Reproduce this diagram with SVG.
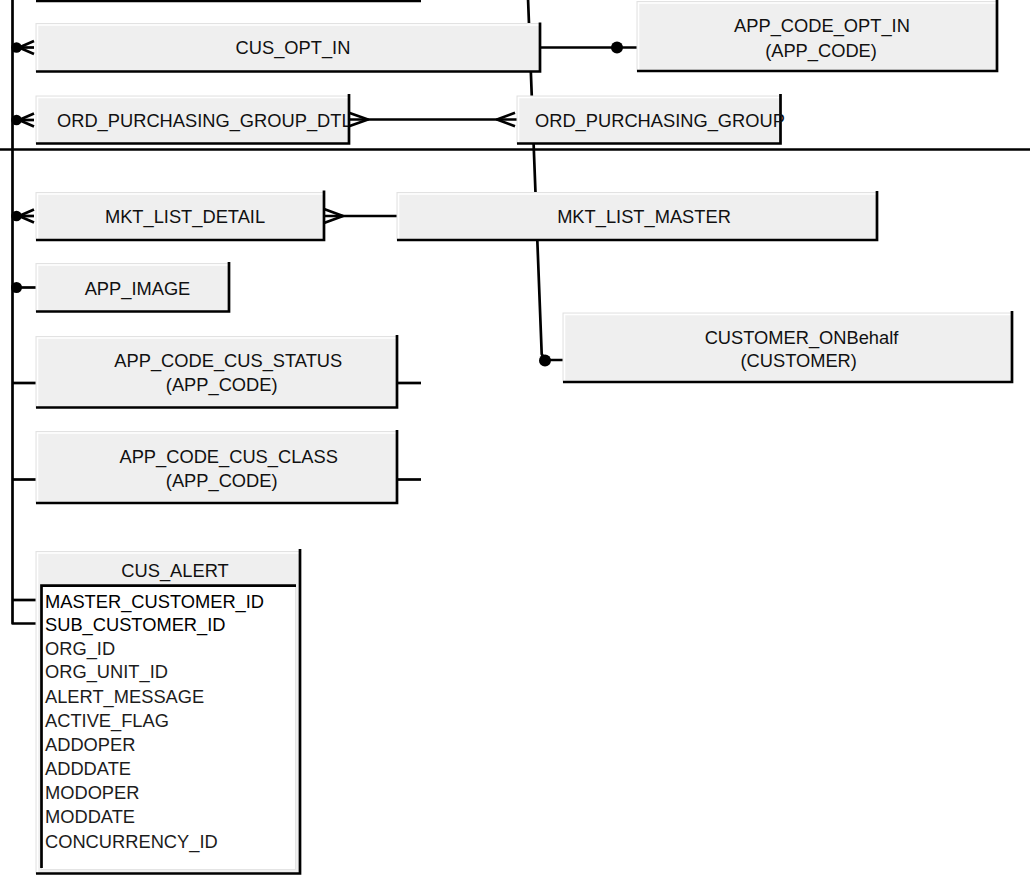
<svg xmlns="http://www.w3.org/2000/svg" width="1030" height="876" viewBox="0 0 1030 876">
<style>
.ln{fill:none;stroke:#000;stroke-width:2.7;stroke-linejoin:round}
.dot{fill:#000}
.bx{fill:#efefef;stroke:#e2e2e2;stroke-width:1}
.hl{fill:none;stroke:#fff;stroke-width:1.5}
.sh{fill:none;stroke:#000;stroke-width:2.7}
.t{font-family:"Liberation Sans",Arial,sans-serif;font-size:18.3px;fill:#111}
.c{text-anchor:middle}
.k{fill:#000}
.f{fill:#1c1c1c}
</style>
<defs>
  <clipPath id="clipDtl"><rect x="36" y="96" width="312" height="48"/></clipPath>
</defs>
<rect width="1030" height="876" fill="#fff"/>
<g id="connectors">
  <line class="ln" x1="36" y1="1" x2="421" y2="1"/>
  <line class="ln" x1="0" y1="149.5" x2="1030" y2="149.5"/>
  <polyline class="ln" points="528,-2 541.7,354 545,360 563,360"/>
  <polyline class="ln" points="12.5,-2 12.5,623.5 36,623.5"/>
  <line class="ln" x1="12.5" y1="600" x2="36" y2="600"/>
  <g id="cf-cus-opt-in">
    <circle class="dot" cx="16.5" cy="47.5" r="5.3"/>
    <polyline class="ln" points="34,41 19,47.5 34,54"/>
    <line class="ln" x1="12.5" y1="47.5" x2="34" y2="47.5"/>
  </g>
  <g id="cf-ord-dtl">
    <circle class="dot" cx="16.5" cy="120" r="5.3"/>
    <polyline class="ln" points="34,113.5 19,120 34,126.5"/>
    <line class="ln" x1="12.5" y1="120" x2="34" y2="120"/>
  </g>
  <g id="cf-mkt-detail">
    <circle class="dot" cx="16.5" cy="216" r="5.3"/>
    <polyline class="ln" points="34,209.5 19,216 34,222.5"/>
    <line class="ln" x1="12.5" y1="216" x2="34" y2="216"/>
  </g>
  <g id="cf-app-image">
    <circle class="dot" cx="16.5" cy="287.5" r="5.5"/>
    <line class="ln" x1="12.5" y1="287.5" x2="36" y2="287.5"/>
  </g>
  <line class="ln" x1="12.5" y1="383" x2="36" y2="383"/>
  <line class="ln" x1="12.5" y1="479.5" x2="36" y2="479.5"/>
  <line class="ln" x1="396" y1="383" x2="421" y2="383"/>
  <line class="ln" x1="396" y1="479.5" x2="421" y2="479.5"/>
  <line class="ln" x1="540" y1="47.5" x2="637" y2="47.5"/>
  <circle class="dot" cx="617" cy="47.5" r="6"/>
  <line class="ln" x1="349" y1="119.5" x2="517" y2="119.5"/>
  <polyline class="ln" points="349,112.8 368,119.5 349,126.2"/>
  <polyline class="ln" points="515,112.8 497,119.5 515,126.2"/>
  <line class="ln" x1="324" y1="216" x2="397" y2="216"/>
  <polyline class="ln" points="324,209 343,216 324,223"/>
  <circle class="dot" cx="545" cy="360.5" r="6"/>
</g>
<g id="n-cus-opt-in">
  <rect class="bx" x="36" y="23.5" width="504" height="48"/>
  <polyline class="hl" points="37.5,71 37.5,25 539,25"/>
  <polyline class="sh" points="540,22.5 540,71.5 36,71.5"/>
  <text class="t c" x="293" y="54">CUS_OPT_IN</text>
</g>
<g id="n-app-code-opt-in">
  <rect class="bx" x="637" y="1.5" width="360" height="69.5"/>
  <polyline class="hl" points="638.5,70 638.5,3 996,3"/>
  <polyline class="sh" points="997,0 997,71 637,71"/>
  <text class="t c" x="822" y="31.7">APP_CODE_OPT_IN</text>
  <text class="t c" x="821" y="56.7">(APP_CODE)</text>
</g>
<g id="n-ord-purchasing-group-dtl">
  <rect class="bx" x="36" y="96" width="313" height="47.5"/>
  <polyline class="hl" points="37.5,143 37.5,97.5 348,97.5"/>
  <text class="t" x="57" y="127" clip-path="url(#clipDtl)">ORD_PURCHASING_GROUP_DTL</text>
  <polyline class="sh" points="349,94 349,143.5 36,143.5"/>
</g>
<g id="n-ord-purchasing-group">
  <rect class="bx" x="517" y="96" width="263.5" height="47.5"/>
  <polyline class="hl" points="518.5,143 518.5,97.5 779,97.5"/>
  <polyline class="sh" points="780.5,94 780.5,143.5 517,143.5"/>
  <text class="t" x="535" y="127">ORD_PURCHASING_GROUP</text>
</g>
<g id="n-mkt-list-detail">
  <rect class="bx" x="36" y="192.5" width="288" height="47.5"/>
  <polyline class="hl" points="37.5,239 37.5,194 323,194"/>
  <polyline class="sh" points="324,190.5 324,240 36,240"/>
  <text class="t c" x="185" y="223">MKT_LIST_DETAIL</text>
</g>
<g id="n-mkt-list-master">
  <rect class="bx" x="397" y="192.5" width="480" height="47.5"/>
  <polyline class="hl" points="398.5,239 398.5,194 876,194"/>
  <polyline class="sh" points="877,191 877,240 397,240"/>
  <text class="t c" x="644" y="223">MKT_LIST_MASTER</text>
</g>
<g id="n-app-image">
  <rect class="bx" x="36" y="263.5" width="193" height="48"/>
  <polyline class="hl" points="37.5,311 37.5,265 228,265"/>
  <polyline class="sh" points="229,262 229,311.5 36,311.5"/>
  <text class="t c" x="137.5" y="295">APP_IMAGE</text>
</g>
<g id="n-customer-onbehalf">
  <rect class="bx" x="563" y="313" width="449" height="69"/>
  <polyline class="hl" points="564.5,381 564.5,314.5 1011,314.5"/>
  <polyline class="sh" points="1012,311 1012,382 563,382"/>
  <text class="t c" x="801.5" y="344">CUSTOMER_ONBehalf</text>
  <text class="t c" x="798.7" y="366.7">(CUSTOMER)</text>
</g>
<g id="n-app-code-cus-status">
  <rect class="bx" x="36" y="336.5" width="361" height="71"/>
  <polyline class="hl" points="37.5,407 37.5,338 396,338"/>
  <polyline class="sh" points="397,335 397,407.5 36,407.5"/>
  <text class="t c" x="228.3" y="367.3">APP_CODE_CUS_STATUS</text>
  <text class="t c" x="221.7" y="390.7">(APP_CODE)</text>
</g>
<g id="n-app-code-cus-class">
  <rect class="bx" x="36" y="431.5" width="361" height="71.5"/>
  <polyline class="hl" points="37.5,502 37.5,433 396,433"/>
  <polyline class="sh" points="397,430 397,503 36,503"/>
  <text class="t c" x="228.7" y="462.7">APP_CODE_CUS_CLASS</text>
  <text class="t c" x="221.7" y="486.7">(APP_CODE)</text>
</g>
<g id="n-cus-alert">
  <rect class="bx" x="36" y="551.5" width="264" height="322"/>
  <polyline class="hl" points="37.5,873 37.5,553 299,553"/>
  <rect x="41.5" y="585.5" width="254" height="284" fill="#fff" stroke="#e4e4e4" stroke-width="1"/>
  <polyline class="sh" points="41.5,868 41.5,585.7 296,585.7"/>
  <polyline class="sh" points="300,549 300,873.5 36,873.5"/>
  <text class="t c" x="175" y="576.7">CUS_ALERT</text>
  <text class="t k" x="45" y="607.5">MASTER_CUSTOMER_ID</text>
  <text class="t k" x="45" y="631">SUB_CUSTOMER_ID</text>
  <text class="t f" x="45" y="654.5">ORG_ID</text>
  <text class="t f" x="45" y="678">ORG_UNIT_ID</text>
  <text class="t f" x="45" y="702.5">ALERT_MESSAGE</text>
  <text class="t f" x="45" y="726.5">ACTIVE_FLAG</text>
  <text class="t f" x="45" y="750.5">ADDOPER</text>
  <text class="t f" x="45" y="775">ADDDATE</text>
  <text class="t f" x="45" y="799">MODOPER</text>
  <text class="t f" x="45" y="823">MODDATE</text>
  <text class="t f" x="45" y="848">CONCURRENCY_ID</text>
</g>
</svg>
